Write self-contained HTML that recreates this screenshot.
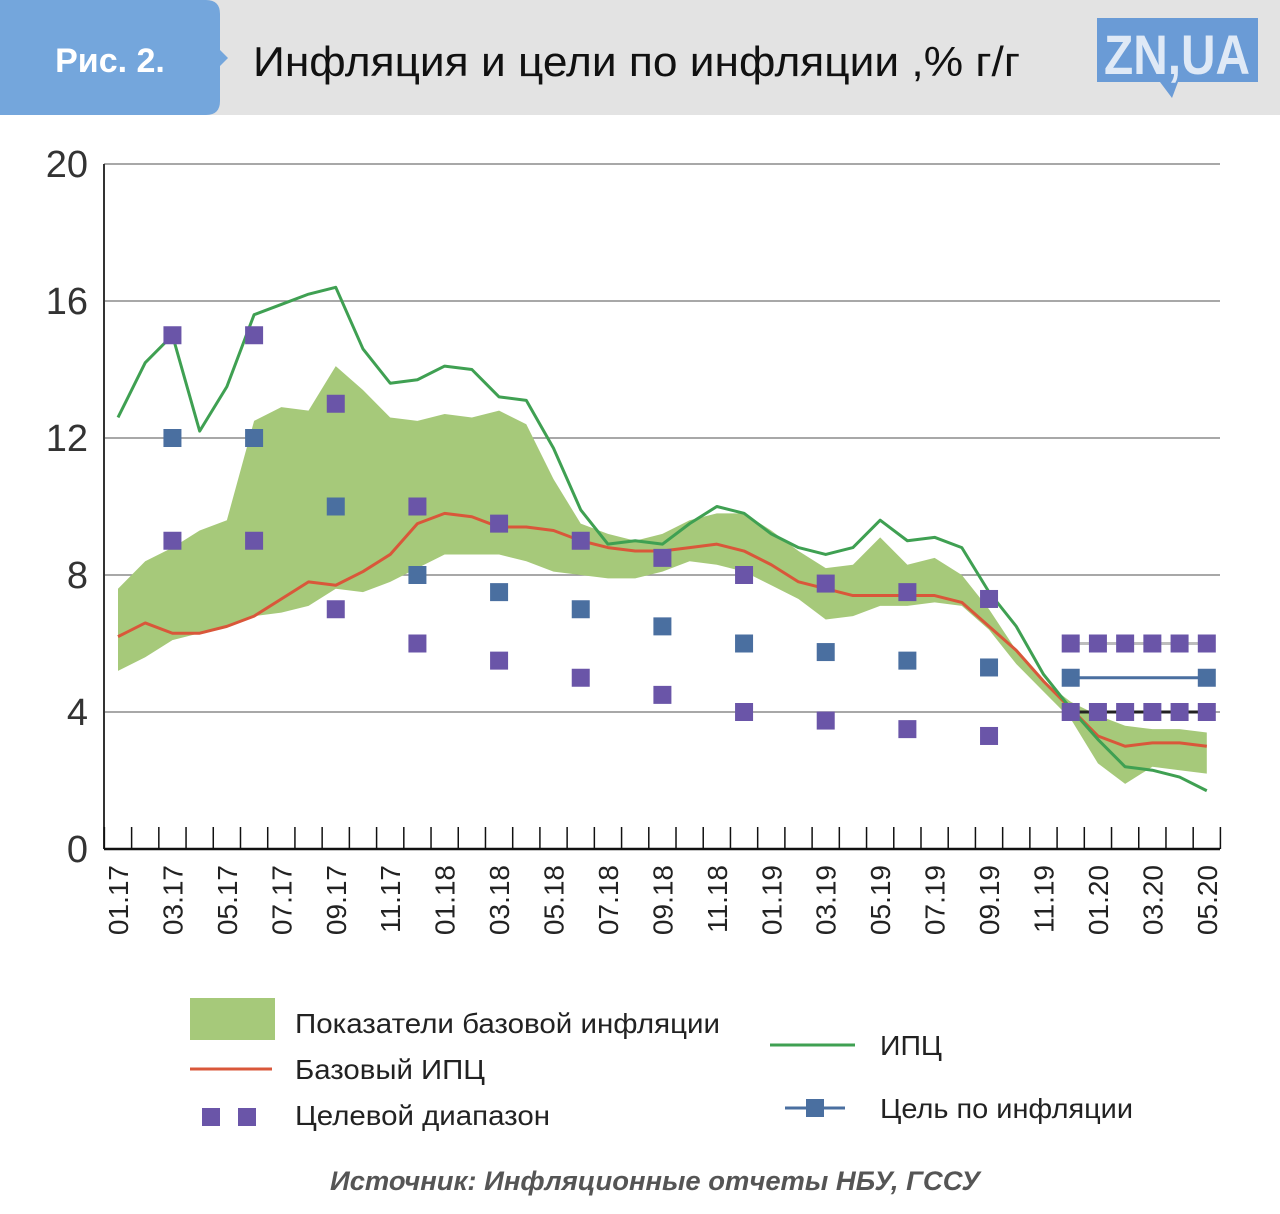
<!DOCTYPE html>
<html><head><meta charset="utf-8">
<style>
html,body{margin:0;padding:0;background:#fff;}
svg{display:block;font-family:"Liberation Sans","DejaVu Sans",sans-serif;}
</style></head>
<body>
<svg id="chart" width="1280" height="1214" viewBox="0 0 1280 1214">
  <rect x="0" y="0" width="1280" height="115" fill="#e3e3e3"/>
  <path d="M0 0 H206 Q220 0 220 14 V50 L228 58 L220 66 V101 Q220 115 206 115 H0 Z" fill="#74a6dc"/>
  <text x="110" y="72" text-anchor="middle" font-size="34" font-weight="bold" fill="#fff">Рис. 2.</text>
  <text x="253" y="76" font-size="42" fill="#111" textLength="767" lengthAdjust="spacingAndGlyphs">Инфляция и цели по инфляции ,% г/г</text>
  <g>
    <rect x="1097" y="18" width="161" height="64" fill="#6a9bd6"/>
    <path d="M1160 82 L1172 98 L1178 82 Z" fill="#6a9bd6"/>
    <text x="1177" y="74" text-anchor="middle" font-size="56" font-weight="bold" fill="#dfe9f6" textLength="146" lengthAdjust="spacingAndGlyphs">ZN,UA</text>
  </g>
  <g id="plot"></g>
  <g>
    <rect x="190" y="998" width="85" height="42" fill="#a6c97a"/>
    <text x="295" y="1033" font-size="28" fill="#222" textLength="425" lengthAdjust="spacingAndGlyphs">Показатели базовой инфляции</text>
    <line x1="190" y1="1069" x2="272" y2="1069" stroke="#d9573a" stroke-width="3"/>
    <text x="295" y="1079" font-size="28" fill="#222" textLength="190" lengthAdjust="spacingAndGlyphs">Базовый ИПЦ</text>
    <rect x="202" y="1108" width="18" height="18" fill="#6a55a8"/>
    <rect x="238" y="1108" width="18" height="18" fill="#6a55a8"/>
    <text x="295" y="1125" font-size="28" fill="#222" textLength="255" lengthAdjust="spacingAndGlyphs">Целевой диапазон</text>
    <line x1="770" y1="1045" x2="855" y2="1045" stroke="#3fa052" stroke-width="3"/>
    <text x="880" y="1055" font-size="28" fill="#222" textLength="62" lengthAdjust="spacingAndGlyphs">ИПЦ</text>
    <line x1="785" y1="1108" x2="845" y2="1108" stroke="#4a6fa0" stroke-width="3"/>
    <rect x="806" y="1099" width="18" height="18" fill="#4a6fa0"/>
    <text x="880" y="1118" font-size="28" fill="#222" textLength="253" lengthAdjust="spacingAndGlyphs">Цель по инфляции</text>
  </g>
  <text x="655" y="1190" text-anchor="middle" font-size="27" font-weight="bold" font-style="italic" fill="#555" textLength="650" lengthAdjust="spacingAndGlyphs">Источник: Инфляционные отчеты НБУ, ГССУ</text>
</svg>
<script>
const months = ["01.17","02.17","03.17","04.17","05.17","06.17","07.17","08.17","09.17","10.17","11.17","12.17","01.18","02.18","03.18","04.18","05.18","06.18","07.18","08.18","09.18","10.18","11.18","12.18","01.19","02.19","03.19","04.19","05.19","06.19","07.19","08.19","09.19","10.19","11.19","12.19","01.20","02.20","03.20","04.20","05.20"];
const cpi = [12.6,14.2,15.0,12.2,13.5,15.6,15.9,16.2,16.4,14.6,13.6,13.7,14.1,14.0,13.2,13.1,11.7,9.9,8.9,9.0,8.9,9.5,10.0,9.8,9.2,8.8,8.6,8.8,9.6,9.0,9.1,8.8,7.5,6.5,5.1,4.1,3.2,2.4,2.3,2.1,1.7];
const coreCpi = [6.2,6.6,6.3,6.3,6.5,6.8,7.3,7.8,7.7,8.1,8.6,9.5,9.8,9.7,9.4,9.4,9.3,9.0,8.8,8.7,8.7,8.8,8.9,8.7,8.3,7.8,7.6,7.4,7.4,7.4,7.4,7.2,6.5,5.8,4.9,4.1,3.3,3.0,3.1,3.1,3.0];
const bandUpper = [7.6,8.4,8.8,9.3,9.6,12.5,12.9,12.8,14.1,13.4,12.6,12.5,12.7,12.6,12.8,12.4,10.8,9.5,9.2,9.0,9.2,9.6,9.8,9.8,9.3,8.7,8.2,8.3,9.1,8.3,8.5,8.0,7.0,5.8,4.9,4.3,3.9,3.6,3.5,3.5,3.4];
const bandLower = [5.2,5.6,6.1,6.3,6.5,6.8,6.9,7.1,7.6,7.5,7.8,8.2,8.6,8.6,8.6,8.4,8.1,8.0,7.9,7.9,8.1,8.4,8.3,8.1,7.7,7.3,6.7,6.8,7.1,7.1,7.2,7.1,6.4,5.4,4.6,3.8,2.5,1.9,2.4,2.3,2.2];
const targetMonths = ["03.17","06.17","09.17","12.17","03.18","06.18","09.18","12.18","03.19","06.19","09.19","12.19","01.20","02.20","03.20","04.20","05.20"];
const targetMid = [12,12,10,8,7.5,7,6.5,6,5.75,5.5,5.3,5,5,5,5,5,5];
const targetHigh = [15,15,13,10,9.5,9,8.5,8,7.75,7.5,7.3,6,6,6,6,6,6];
const targetLow = [9,9,7,6,5.5,5,4.5,4,3.75,3.5,3.3,4,4,4,4,4,4];
const yTicks = [0,4,8,12,16,20];
const xLabels = ["01.17","03.17","05.17","07.17","09.17","11.17","01.18","03.18","05.18","07.18","09.18","11.18","01.19","03.19","05.19","07.19","09.19","11.19","01.20","03.20","05.20"];

const NS = "http://www.w3.org/2000/svg";
const plot = document.getElementById("plot");
const X0 = 118, STEP = 27.22, Y0 = 849, YTOP = 164, YMAX = 20, LEFT = 104, RIGHT = 1220;
function xScale(m){ return X0 + months.indexOf(m) * STEP; }
function xIdx(i){ return X0 + i * STEP; }
function yScale(v){ return Y0 - (v / YMAX) * (Y0 - YTOP); }
function mk(tag, attrs, parent){
  const e = document.createElementNS(NS, tag);
  for (const k in attrs) e.setAttribute(k, attrs[k]);
  (parent || plot).appendChild(e);
  return e;
}

yTicks.forEach(t => {
  if (t > 0) {
    const g = mk("line", {x1: LEFT, x2: RIGHT, y1: yScale(t), y2: yScale(t), stroke: "#8c8c8c", "stroke-width": 1.5});
    
    
  }
  const l = mk("text", {x: 88, y: yScale(t) + 13, "text-anchor": "end", "font-size": 38, fill: "#333"});
  l.textContent = t;
  
  
});

let d = "";
bandUpper.forEach((v, i) => { d += (i ? "L" : "M") + xIdx(i) + " " + yScale(v) + " "; });
for (let i = bandLower.length - 1; i >= 0; i--) d += "L" + xIdx(i) + " " + yScale(bandLower[i]) + " ";
const band = mk("path", {d: d + "Z", fill: "#a6c97a"});



function line(vals, color, name){
  const p = mk("polyline", {points: vals.map((v, i) => xIdx(i) + "," + yScale(v)).join(" "), fill: "none", stroke: color, "stroke-width": 3, "stroke-linejoin": "round"});
  
  
}
line(coreCpi, "#d9573a", "core-cpi-line");
line(cpi, "#3fa052", "cpi-line");

const tStart = targetMonths.indexOf("12.19");
const tEnd = targetMonths.length - 1;
const hl = mk("line", {x1: xScale(targetMonths[tStart]), x2: xScale(targetMonths[tEnd]), y1: yScale(targetHigh[tStart]), y2: yScale(targetHigh[tEnd]), stroke: "#bdbdbd", "stroke-width": 3});


const ll = mk("line", {x1: xScale(targetMonths[tStart]), x2: xScale(targetMonths[tEnd]), y1: yScale(targetLow[tStart]), y2: yScale(targetLow[tEnd]), stroke: "#222", "stroke-width": 3});


const ml = mk("line", {x1: xScale(targetMonths[tStart]), x2: xScale(targetMonths[tEnd]), y1: yScale(targetMid[tStart]), y2: yScale(targetMid[tEnd]), stroke: "#4a6fa0", "stroke-width": 3});



targetMonths.forEach((m, i) => {
  const x = xScale(m);
  const rh = mk("rect", {x: x - 9, y: yScale(targetHigh[i]) - 9, width: 18, height: 18, fill: "#6a55a8"});
  
  
  const rl = mk("rect", {x: x - 9, y: yScale(targetLow[i]) - 9, width: 18, height: 18, fill: "#6a55a8"});
  
  
  const isEndpoint = (i < tStart) || i === tStart || i === tEnd;
  if (isEndpoint) {
    const rm = mk("rect", {x: x - 9, y: yScale(targetMid[i]) - 9, width: 18, height: 18, fill: "#4a6fa0"});
    
    
  }
});

const ya = mk("line", {x1: LEFT, x2: LEFT, y1: YTOP, y2: Y0, stroke: "#333", "stroke-width": 2});


const xa = mk("line", {x1: LEFT, x2: RIGHT, y1: Y0, y2: Y0, stroke: "#111", "stroke-width": 2.5});


for (let i = 0; i <= months.length; i++) {
  const tx = xIdx(i) - STEP / 2;
  const t = mk("line", {x1: tx, x2: tx, y1: Y0 - 22, y2: Y0, stroke: "#111", "stroke-width": 1.5});
  
  
}
xLabels.forEach(lb => {
  const x = xScale(lb);
  const t = mk("text", {x: 0, y: 0, "text-anchor": "end", "font-size": 28, fill: "#222", transform: "translate(" + (x + 10) + "," + (Y0 + 16) + ") rotate(-90)"});
  t.textContent = lb;
  
  
});
</script>
</body></html>
